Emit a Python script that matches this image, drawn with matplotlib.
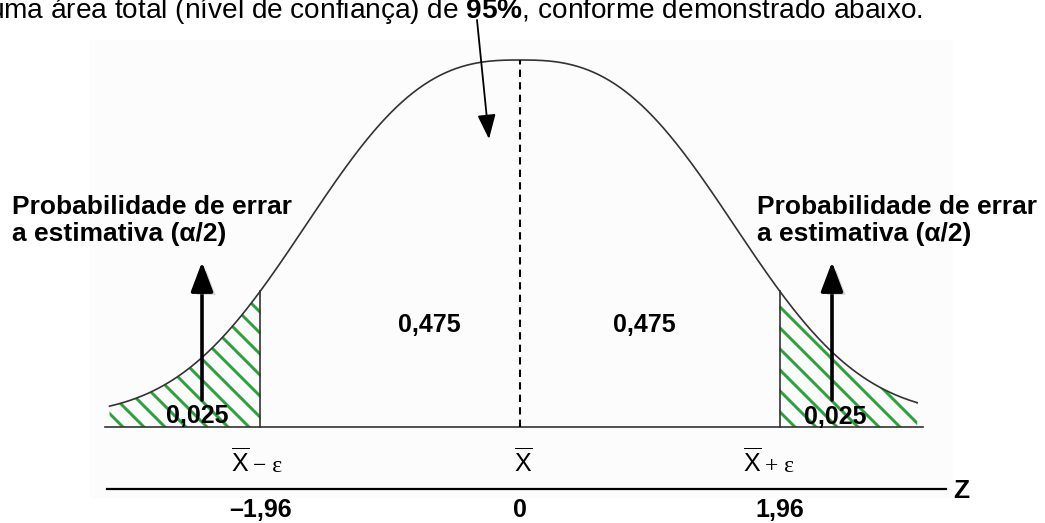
import matplotlib
matplotlib.use("Agg")
import matplotlib.pyplot as plt
import matplotlib.patheffects as pe
from matplotlib.collections import LineCollection
from matplotlib.patches import Rectangle
import numpy as np

# ---------------- data ----------------
z_crit = [-1.96, 0.0, 1.96]
z_tick_labels = ["\u20131,96", "0", "1,96"]
xbar_suffix = ["\u2212 \u03b5", "", "+ \u03b5"]
center_area = 0.475
tail_area = 0.025
confidence_pct = 95
tail_label_lines = ["Probabilidade de errar", "a estimativa (\u03b1/2)"]
curve_range = (-3.1, 3.0)
axis_name = "Z"

def fmt(v):
    return f"{v:.3f}".replace(".", ",")

# ---------------- style ----------------
plt.rcParams["mathtext.fontset"] = "custom"
plt.rcParams["mathtext.sf"] = "Liberation Sans"
plt.rcParams["mathtext.rm"] = "Liberation Sans"
plt.rcParams["mathtext.bf"] = "Liberation Sans:bold"
BOLD = dict(family=["Liberation Sans", "DejaVu Sans"], fontweight="bold")
GREEN = "#27a33a"
DARK = "#333333"

fig = plt.figure(figsize=(10.45, 5.23), dpi=100)
ax = fig.add_axes([0, 0, 1, 1])

# pixel helpers for layout
CX, SX, BY, SY = 520.0, 132.4, 427.0, 367.0
def dx(px): return (px - CX) / SX
def dy(py): return (BY - py) / SY

ax.set_xlim(dx(0), dx(1045))
ax.set_ylim(dy(523), dy(0))
ax.axis("off")

# faint background panel
ax.add_patch(Rectangle((dx(90), dy(498)), dx(953) - dx(90), dy(40) - dy(498),
                       facecolor="#fcfcfc", edgecolor="none", zorder=0))

def bell(z):
    g = np.exp(-0.5 * np.abs(z / 1.49) ** 2.69)
    return 0.97 * g + 0.03

z = np.linspace(curve_range[0], curve_range[1], 600)
ax.plot(z, bell(z), color=DARK, lw=1.2, zorder=3)

# hatched tails
fig.canvas.draw()
for lo, hi in [(curve_range[0], z_crit[0]), (z_crit[2], curve_range[1])]:
    zz = np.linspace(lo, hi, 200)
    poly = ax.fill_between(zz, 0, bell(zz), facecolor="none", lw=0, zorder=2)
    segs = [[(0, c), (1100, c - 1100)] for c in np.arange(-600, 1700, 21)]
    lc = LineCollection(segs, colors=GREEN, linewidths=2.1, transform=None, zorder=2)
    lc.set_clip_path(poly.get_paths()[0], ax.transData)
    ax.add_artist(lc)

# baseline
ax.plot([dx(105), dx(923)], [0, 0], color=DARK, lw=1.2, zorder=3)
# critical vertical lines
for zc in (z_crit[0], z_crit[2]):
    ax.plot([zc, zc], [0, bell(zc)], color=DARK, lw=1.2, zorder=3)
# dashed centre
ax.plot([z_crit[1], z_crit[1]], [0, bell(z_crit[1])], color="black", lw=1.5,
        ls=(0, (3.5, 2.5)), zorder=3)

# lower Z axis
ax.plot([dx(107), dx(946)], [dy(489), dy(489)], color="black", lw=1.6)
ax.text(dx(961), dy(498), axis_name, ha="center", va="baseline", fontsize=19, **BOLD)

for zc, lab in zip(z_crit, z_tick_labels):
    ax.text(zc, dy(517), lab, ha="center", va="baseline", fontsize=18, **BOLD)

# X-bar labels
xbar_pos = [240, 523, 752]
for xp, suf in zip(xbar_pos, xbar_suffix):
    ax.text(dx(xp), dy(472), r"$\overline{\mathsf{X}}$", ha="center", va="baseline",
            fontsize=18)
    if suf:
        ax.text(dx(xp + 13), dy(472), suf, ha="left", va="baseline", fontsize=17,
                family=["Liberation Serif", "DejaVu Serif"])

# area labels
ax.text(dx(429), dy(332), fmt(center_area), ha="center", va="baseline", fontsize=18, **BOLD)
ax.text(dx(644), dy(332), fmt(center_area), ha="center", va="baseline", fontsize=18, **BOLD)
ax.text(dx(197), dy(423), fmt(tail_area), ha="center", va="baseline", fontsize=18, zorder=5, **BOLD)
ax.text(dx(835), dy(424), fmt(tail_area), ha="center", va="baseline", fontsize=18, zorder=5, **BOLD)

# side labels
for xl in (12, 757):
    ax.text(dx(xl), dy(214), tail_label_lines[0], ha="left", va="baseline", fontsize=19, **BOLD)
    ax.text(dx(xl), dy(241), tail_label_lines[1], ha="left", va="baseline", fontsize=19, **BOLD)

# vertical arrows
shadow = [pe.SimplePatchShadow(offset=(3, -2), shadow_rgbFace="#888888", alpha=0.35), pe.Normal()]
for xa in (202, 832):
    ax.annotate("", xy=(dx(xa), dy(262)), xytext=(dx(xa), dy(400)),
                arrowprops=dict(arrowstyle="-|>,head_length=0.9,head_width=0.34",
                                mutation_scale=20, color="black", lw=2.6,
                                shrinkA=0, shrinkB=0, path_effects=shadow),
                zorder=4)

# top arrow
ax.annotate("", xy=(dx(489), dy(139)), xytext=(dx(477), dy(20)),
            arrowprops=dict(arrowstyle="-|>,head_length=0.75,head_width=0.28",
                            mutation_scale=20, color="black", lw=1.3,
                            shrinkA=0, shrinkB=0), zorder=4)

# top (cut) sentence, fitted to the reference width
top = ax.text(dx(923), dy(18),
              "uma \u00e1rea total (n\u00edvel de confian\u00e7a) de $\\mathbf{" + str(confidence_pct)
              + "\\%}$, conforme demonstrado abaixo.",
              ha="right", va="baseline", fontsize=25,
              family=["Liberation Sans", "DejaVu Sans"])
fig.canvas.draw()
w = top.get_window_extent().width
top.set_fontsize(25 * 935.0 / w)

fig.savefig("out.png", dpi=100)
